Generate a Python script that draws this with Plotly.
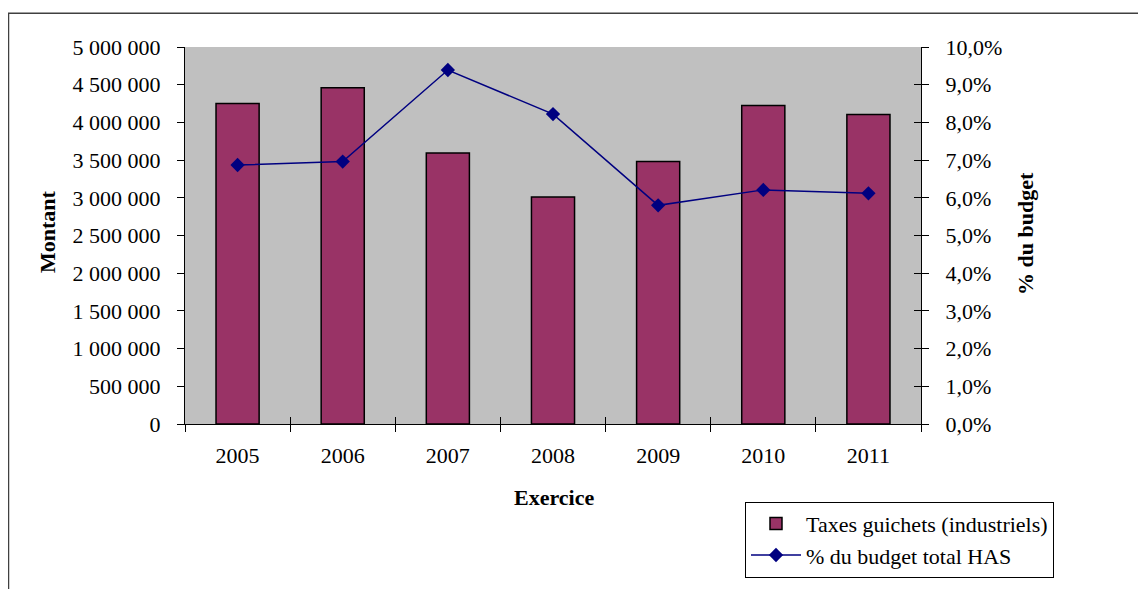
import plotly.graph_objects as go

years = ["2005", "2006", "2007", "2008", "2009", "2010", "2011"]
taxes = [4250000, 4460000, 3595000, 3010000, 3480000, 4225000, 4105000]
pct_budget = [0.0687, 0.0696, 0.0939, 0.0822, 0.0580, 0.0621, 0.0612]

FONT = "Liberation Serif"
FS = 22

# page body has 8px margin: figure origin is at (8, 8) in the screenshot
OX, OY = 8, 8
L, R, T, B = 185, 921, 47, 426  # plot area in screenshot pixels
W, H = 1146 - OX, 589 - OY
PW, PH = R - L, B - T


def px(x):
    return (x - L) / PW


def py(y):
    return (B - y) / PH


fig = go.Figure()
fig.add_trace(go.Bar(
    x=years, y=taxes, name="Taxes guichets (industriels)",
    marker=dict(color="#993366", line=dict(color="black", width=1.5)),
    width=0.41, yaxis="y",
))
fig.add_trace(go.Scatter(
    x=years, y=pct_budget, name="% du budget total HAS", mode="lines+markers",
    line=dict(color="#000080", width=1.5),
    marker=dict(symbol="diamond", size=11, color="#000080"),
    yaxis="y2",
))
# invisible helper trace so the inner tick axes (crossing ticks) get drawn
fig.add_trace(go.Scatter(
    x=years, y=pct_budget, mode="none", showlegend=False, hoverinfo="skip",
    xaxis="x2", yaxis="y3",
))

fig.update_layout(
    width=W, height=H,
    margin=dict(l=L - OX, r=(OX + W) - R, t=T - OY, b=(OY + H) - B),
    paper_bgcolor="white", plot_bgcolor="#C0C0C0",
    separators=", ",
    font=dict(family=FONT, size=FS, color="black"),
    showlegend=True,
    legend=dict(
        x=px(745), y=py(504), xanchor="left", yanchor="top",
        bordercolor="black", borderwidth=1, bgcolor="white",
        font=dict(family=FONT, size=FS), tracegroupgap=0,
        itemwidth=50,
    ),
    xaxis=dict(
        type="category", showline=True, linecolor="black", linewidth=1.2,
        ticks="outside", ticklen=7, tickcolor="black", tickson="boundaries",
        showgrid=False, ticklabelstandoff=11,
    ),
    xaxis2=dict(
        type="category", overlaying="x", side="bottom", anchor="y",
        categoryarray=years, range=[-0.5, 6.5],
        ticks="inside", ticklen=7, tickcolor="black", tickson="boundaries",
        showticklabels=False, showgrid=False, showline=False,
    ),
    yaxis=dict(
        range=[0, 5000000], dtick=500000, tickformat=",d",
        showline=True, linecolor="black", linewidth=1.2,
        ticks="outside", ticklen=7, tickcolor="black",
        showgrid=False, zeroline=False, ticklabelstandoff=12,
    ),
    yaxis2=dict(
        range=[0, 0.10], dtick=0.01, tickformat=".1%", overlaying="y", side="right",
        showline=True, linecolor="black", linewidth=1.2,
        ticks="outside", ticklen=7, tickcolor="black",
        showgrid=False, zeroline=False, ticklabelstandoff=12,
    ),
    yaxis3=dict(
        range=[0, 0.10], dtick=0.01, overlaying="y", side="right", anchor="x",
        ticks="inside", ticklen=7, tickcolor="black",
        showticklabels=False, showgrid=False, zeroline=False, showline=False,
    ),
    bargap=0.59,
)

# axis titles
fig.add_annotation(text="<b>Montant</b>", xref="paper", yref="paper",
                   x=px(47), y=py(233), textangle=-90,
                   xanchor="center", yanchor="middle",
                   showarrow=False, font=dict(family=FONT, size=FS))
fig.add_annotation(text="<b>% du budget</b>", xref="paper", yref="paper",
                   x=px(1025), y=py(235), textangle=-90,
                   xanchor="center", yanchor="middle",
                   showarrow=False, font=dict(family=FONT, size=FS))
fig.add_annotation(text="<b>Exercice</b>", xref="paper", yref="paper",
                   x=px(554), y=py(500),
                   xanchor="center", yanchor="middle",
                   showarrow=False, font=dict(family=FONT, size=FS))

# outer chart border
fig.add_shape(type="rect", xref="paper", yref="paper",
              x0=px(8.5), x1=px(1160),
              y0=py(610), y1=py(13),
              line=dict(color="#404040", width=1.5), layer="below")

fig.write_html("out.html")
